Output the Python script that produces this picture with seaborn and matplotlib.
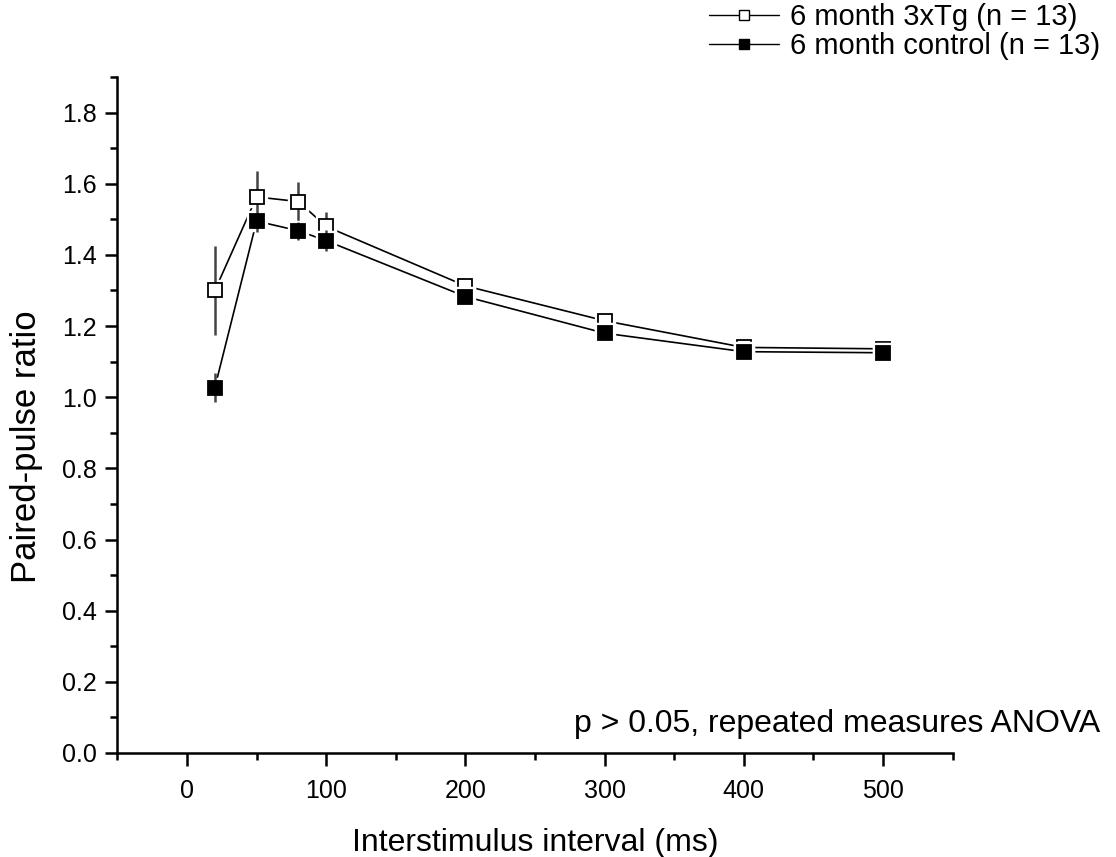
import pandas as pd
import seaborn as sns
import matplotlib.pyplot as plt
from matplotlib.lines import Line2D
from matplotlib.ticker import MultipleLocator

# Paired-pulse data (mean +/- SEM)
intervals = [20, 50, 80, 100, 200, 300, 400, 500]
tg_mean = [1.30, 1.563, 1.55, 1.48, 1.313, 1.215, 1.14, 1.136]
tg_sem = [0.125, 0.072, 0.055, 0.04, 0.01, 0.02, 0.015, 0.01]
ctrl_mean = [1.027, 1.495, 1.468, 1.44, 1.283, 1.18, 1.128, 1.125]
ctrl_sem = [0.04, 0.03, 0.025, 0.03, 0.01, 0.01, 0.01, 0.008]
labels = ['6 month 3xTg (n = 13)', '6 month control (n = 13)']

df = pd.concat([
    pd.DataFrame({'isi': intervals, 'ppr': tg_mean, 'sem': tg_sem, 'group': labels[0]}),
    pd.DataFrame({'isi': intervals, 'ppr': ctrl_mean, 'sem': ctrl_sem, 'group': labels[1]}),
])

sns.set_style('ticks', {'axes.edgecolor': 'black', 'text.color': 'black',
                        'xtick.color': 'black', 'ytick.color': 'black',
                        'axes.labelcolor': 'black'})
plt.rcParams['font.family'] = ['Liberation Sans', 'DejaVu Sans']

fig = plt.figure(figsize=(11.16, 8.57), dpi=100)
ax = fig.add_axes([0.1052, 0.1214, 0.7484, 0.7887])

faces = {labels[0]: 'white', labels[1]: 'black'}

# connecting lines
sns.lineplot(data=df, x='isi', y='ppr', hue='group', palette=['black', 'black'],
             linewidth=1.2, legend=False, ax=ax, zorder=1)

for i, lab in enumerate(labels):
    sub = df[df['group'] == lab]
    # white pad so the lines stop short of the markers
    ax.plot(sub['isi'], sub['ppr'], linestyle='none', marker='s', markersize=14,
            markerfacecolor='white', markeredgecolor='white', zorder=2 + i * 3)
    ax.errorbar(sub['isi'], sub['ppr'], yerr=sub['sem'], fmt='none',
                ecolor='#444444', elinewidth=1.8, capsize=0, zorder=3 + i * 3)
    ax.plot(sub['isi'], sub['ppr'], linestyle='none', marker='s', markersize=9.5,
            markerfacecolor=faces[lab], markeredgecolor='black', markeredgewidth=1.3,
            zorder=4 + i * 3)

ax.set_xlim(-50, 550)
ax.set_ylim(0, 1.9)
ax.xaxis.set_major_locator(MultipleLocator(100))
ax.xaxis.set_minor_locator(MultipleLocator(50))
ax.yaxis.set_minor_locator(MultipleLocator(0.1))
ax.set_yticks([0, 0.2, 0.4, 0.6, 0.8, 1.0, 1.2, 1.4, 1.6, 1.8])
ax.set_yticklabels([f'{v:.1f}' for v in ax.get_yticks()])

for side in ['top', 'right']:
    ax.spines[side].set_visible(False)
for side in ['left', 'bottom']:
    ax.spines[side].set_linewidth(1.8)
ax.tick_params(which='major', direction='out', length=9, width=1.8, labelsize=18, pad=6)
ax.tick_params(axis='x', which='major', pad=10)
ax.tick_params(which='minor', direction='out', length=5, width=1.8)

ax.set_xlabel('Interstimulus interval (ms)', fontsize=23, labelpad=18)
ax.set_ylabel('Paired-pulse ratio', fontsize=25)
ax.yaxis.set_label_coords(-0.089, 0.453)

handles = [Line2D([], [], color='black', linewidth=1.0, marker='s', markersize=7,
                  markerfacecolor=faces[lab], markeredgecolor='black', markeredgewidth=1.0)
           for lab in labels]
fig.legend(handles, labels, loc='upper right', bbox_to_anchor=(0.988, 1.0),
           frameon=False, fontsize=21, handlelength=2.4, handletextpad=0.35,
           labelspacing=0.05, borderpad=0.1, borderaxespad=0.0)

fig.text(0.986, 0.146, 'p > 0.05, repeated measures ANOVA', fontsize=23,
         ha='right', va='baseline')

plt.savefig('out.png', dpi=100)
